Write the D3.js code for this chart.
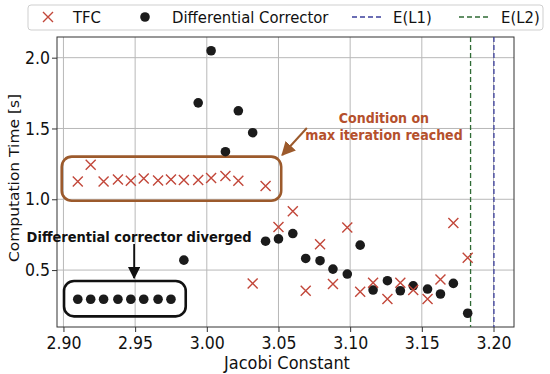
<!DOCTYPE html>
<html>
<head>
<meta charset="utf-8">
<script src="https://cdn.jsdelivr.net/npm/d3@7"></script>
<style>
  body { margin: 0; background: #fff; }
  text { font-family: "DejaVu Sans", sans-serif; }
</style>
</head>
<body>
<svg id="chart" width="550" height="374"></svg>
<script>
// jacobi constant of each computed orbit
const jacobi = [2.910, 2.919, 2.928, 2.938, 2.947, 2.956, 2.966, 2.975, 2.984, 2.994,
                3.003, 3.013, 3.022, 3.032, 3.041, 3.050, 3.060, 3.069, 3.079, 3.088,
                3.098, 3.107, 3.116, 3.126, 3.135, 3.144, 3.154, 3.163, 3.172, 3.182];
const tfcTime = [1.125, 1.244, 1.125, 1.140, 1.130, 1.147, 1.133, 1.140, 1.136, 1.136,
                 1.150, 1.164, 1.130, 0.406, 1.093, 0.805, 0.915, 0.354, 0.683, 0.401,
                 0.800, 0.347, 0.411, 0.296, 0.411, 0.359, 0.296, 0.434, 0.833, 0.587];
// first 8 entries: diverged runs, drawn inside the annotation box
const dcTime = [0.294, 0.294, 0.294, 0.294, 0.294, 0.294, 0.294, 0.294, 0.570, 1.681,
                2.049, 1.336, 1.625, 1.470, 0.704, 0.720, 0.758, 0.582, 0.566, 0.507,
                0.472, 0.676, 0.359, 0.425, 0.354, 0.389, 0.366, 0.331, 0.406, 0.195];
const energyLines = [
  { name: 'E(L1)', value: 3.2003, color: '#3b3f9c' },
  { name: 'E(L2)', value: 3.1840, color: '#2f6b35' }
];
const xTicks = [2.90, 2.95, 3.00, 3.05, 3.10, 3.15, 3.20];
const yTicks = [0.5, 1.0, 1.5, 2.0];

const svg = d3.select('#chart');
const m = { left: 57, right: 514, top: 37, bottom: 327 };
const sx = 0.9; // the original figure is a little squeezed sideways

const x = d3.scaleLinear().domain([2.8955, 3.2143]).range([m.left, m.right]);
const y = d3.scaleLinear().domain([0.098, 2.146]).range([m.bottom, m.top]);

const crossColor = '#c2473a';
const dotColor = '#1b1b1b';
const brown = '#9c5a2c';

// text with horizontal squeeze
function label(g, tx, ty, str, size, opts = {}) {
  const t = g.append('text')
    .attr('transform', `translate(${tx},${ty}) scale(${opts.sx || sx},1)`)
    .attr('font-size', size).attr('fill', opts.fill || '#111')
    .attr('text-anchor', opts.anchor || 'start').text(str);
  if (opts.bold) t.attr('font-weight', 'bold').attr('font-family', '"Liberation Sans", Arial, sans-serif');
  return t;
}

// grid
svg.append('g').selectAll('line').data(xTicks).enter().append('line')
  .attr('x1', d => x(d)).attr('x2', d => x(d)).attr('y1', m.top).attr('y2', m.bottom)
  .attr('stroke', '#b8b8b8').attr('stroke-width', 1);
svg.append('g').selectAll('line').data(yTicks).enter().append('line')
  .attr('x1', m.left).attr('x2', m.right).attr('y1', d => y(d)).attr('y2', d => y(d))
  .attr('stroke', '#b8b8b8').attr('stroke-width', 1);

// axes
const xAxis = svg.append('g').attr('transform', `translate(0,${m.bottom})`)
  .call(d3.axisBottom(x).tickValues(xTicks).tickFormat(d3.format('.2f')).tickSize(5).tickSizeOuter(0));
const yAxis = svg.append('g').attr('transform', `translate(${m.left},0)`)
  .call(d3.axisLeft(y).tickValues(yTicks).tickFormat(d3.format('.1f')).tickSize(5).tickSizeOuter(0));
[xAxis, yAxis].forEach(a => {
  a.select('.domain').remove();
  a.selectAll('text').attr('font-family', '"DejaVu Sans", sans-serif').attr('font-size', 17.5).attr('fill', '#111');
  a.selectAll('line').attr('stroke', '#333');
});
xAxis.selectAll('text').attr('y', 0).attr('dy', 0).attr('transform', `translate(0,22) scale(${sx},1)`);
yAxis.selectAll('text').attr('x', -7 / sx).attr('transform', `scale(${sx},1)`);

svg.append('rect').attr('x', m.left).attr('y', m.top).attr('width', m.right - m.left).attr('height', m.bottom - m.top)
  .attr('fill', 'none').attr('stroke', '#333').attr('stroke-width', 1);

label(svg, 287, 369, 'Jacobi Constant', 17, { anchor: 'middle', sx: 0.95 });
svg.append('text').attr('transform', `translate(19,178) rotate(-90) scale(1,${sx})`)
  .attr('text-anchor', 'middle').attr('font-size', 15.5).attr('fill', '#111').text('Computation Time [s]');

// energy lines
svg.append('g').selectAll('line').data(energyLines).enter().append('line')
  .attr('x1', d => x(d.value)).attr('x2', d => x(d.value)).attr('y1', m.top).attr('y2', m.bottom)
  .attr('stroke', d => d.color).attr('stroke-width', 1.3).attr('stroke-dasharray', '5,3');

// annotation boxes
function roundBox(x0, x1, y0, y1, color) {
  svg.append('rect')
    .attr('x', x(x0)).attr('y', y(y0)).attr('width', x(x1) - x(x0)).attr('height', y(y1) - y(y0))
    .attr('rx', 10).attr('fill', 'none').attr('stroke', color).attr('stroke-width', 2.6);
}
roundBox(2.8988, 3.0519, 1.301, 0.990, brown);
roundBox(2.9004, 2.9853, 0.423, 0.173, '#111');

// points
const pts = jacobi.map((j, i) => ({ j, tfc: tfcTime[i], dc: dcTime[i] }));
svg.append('g').selectAll('circle').data(pts).enter().append('circle')
  .attr('cx', d => x(d.j)).attr('cy', d => y(d.dc)).attr('r', 4.8).attr('fill', dotColor);

const cs = 5;
function cross(g, cx, cy) {
  g.append('path')
    .attr('d', `M${cx - cs},${cy - cs}L${cx + cs},${cy + cs}M${cx - cs},${cy + cs}L${cx + cs},${cy - cs}`)
    .attr('stroke', crossColor).attr('stroke-width', 1.4).attr('fill', 'none');
}
const crossG = svg.append('g');
pts.forEach(d => cross(crossG, x(d.j), y(d.tfc)));

// arrows
const defs = svg.append('defs');
function marker(id, color) {
  defs.append('marker').attr('id', id).attr('viewBox', '0 0 10 10').attr('refX', 9).attr('refY', 5)
    .attr('markerWidth', 7).attr('markerHeight', 7).attr('orient', 'auto')
    .append('path').attr('d', 'M0,0L10,5L0,10z').attr('fill', color);
}
marker('arrBrown', brown);
marker('arrBlack', '#111');

svg.append('line').attr('x1', x(3.0698)).attr('y1', y(1.503)).attr('x2', x(3.0526)).attr('y2', y(1.313))
  .attr('stroke', brown).attr('stroke-width', 2).attr('marker-end', 'url(#arrBrown)');
svg.append('line').attr('x1', x(2.9493)).attr('y1', y(0.684)).attr('x2', x(2.9493)).attr('y2', y(0.444))
  .attr('stroke', '#111').attr('stroke-width', 1.8).attr('marker-end', 'url(#arrBlack)');

// annotation text
label(svg, x(3.1236), y(1.541), 'Condition on', 14.5, { anchor: 'middle', bold: true, fill: '#b5502c', sx: 0.87 });
label(svg, x(3.1236), y(1.419), 'max iteration reached', 14.5, { anchor: 'middle', bold: true, fill: '#b5502c', sx: 0.87 });
label(svg, x(2.9528), y(0.700), 'Differential corrector diverged', 14.5, { anchor: 'middle', bold: true });

// legend
const lg = svg.append('g');
lg.append('rect').attr('x', 28).attr('y', 5).attr('width', 515).attr('height', 25).attr('rx', 3)
  .attr('fill', '#fff').attr('stroke', '#cfcfcf');
cross(lg, 48, 17);
lg.append('circle').attr('cx', 145).attr('cy', 17).attr('r', 4.8).attr('fill', dotColor);
const legendText = [
  { t: 'TFC', x: 73 }, { t: 'Differential Corrector', x: 172 },
  { t: energyLines[0].name, x: 393 }, { t: energyLines[1].name, x: 501 }
];
legendText.forEach(d => label(lg, d.x, 23, d.t, 16.5));
lg.selectAll('line').data([{ x0: 352, c: energyLines[0].color }, { x0: 459, c: energyLines[1].color }])
  .enter().append('line')
  .attr('x1', d => d.x0).attr('x2', d => d.x0 + 29).attr('y1', 17).attr('y2', 17)
  .attr('stroke', d => d.c).attr('stroke-width', 1.3).attr('stroke-dasharray', '5,3');
</script>
</body>
</html>
